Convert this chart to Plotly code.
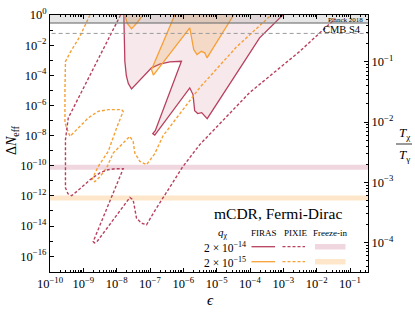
import plotly.graph_objects as go

# ---------------- data ----------------
# FIRAS, q = 2e-14 (closed region)
firas14_eps = [1.64e-8, 1.68e-8, 1.76e-8, 1.95e-8, 2.24e-8, 2.79e-8, 5.31e-8, 1.11e-7, 1.96e-7,
               3.92e-7, 8.77e-7, 1.44e-7, 1.21e-7, 1.39e-7, 1.56e-6, 1.95e-6, 2.19e-6, 2.70e-6,
               3.56e-6, 5.20e-6, 1.94e-4, 9.66e-4]
firas14_dn = [1.0, 2.34e-2, 8.13e-4, 9.55e-5, 2.82e-5, 1.26e-5, 5.62e-5, 3.09e-4, 5.50e-4,
              7.76e-4, 8.51e-4, 2.14e-8, 1.35e-8, 1.07e-8, 1.45e-5, 5.25e-6, 4.47e-7, 2.88e-7,
              3.31e-7, 1.32e-7, 3.05e-2, 1.0]

# FIRAS, q = 2e-15 (main region + small lobe at top)
firas15_eps = [5.53e-7, 1.11e-7, 1.26e-7, 1.56e-6, 2.05e-6, 2.57e-6, 3.48e-6, 4.38e-6, 5.13e-6, 3.23e-5]
firas15_dn = [1.0, 2.40e-4, 1.02e-4, 1.41e-1, 5.13e-3, 2.40e-3, 3.89e-3, 3.09e-3, 1.45e-3, 1.0]
firas15b_eps = [1.76e-8, 2.09e-8, 2.79e-8, 4.03e-8, 6.21e-8]
firas15b_dn = [1.0, 0.272, 0.121, 0.295, 1.0]

# PIXIE, q = 2e-14
pixie14_eps = [1.31e-8, 3.53e-10, 2.91e-10, 2.81e-10, 2.91e-10, 3.46e-10, 4.47e-10, 7.91e-10,
               1.58e-9, 3.14e-9, 5.46e-9, 8.83e-9, 1.57e-8, 1.98e-9, 2.15e-9, 2.50e-9, 2.48e-8,
               3.12e-8, 3.94e-8, 5.57e-8, 7.85e-8, 1.39e-7, 2.42e-7, 4.50e-7, 9.59e-7, 3.10e-6,
               9.73e-5, 3.05e-3, 3.66e-2]
pixie14_dn = [1.0, 1.48e-7, 5.37e-9, 2.51e-11, 3.47e-12, 1.38e-12, 1.02e-12, 2.95e-12,
              1.17e-11, 3.39e-11, 5.37e-11, 6.31e-11, 6.31e-11, 9.33e-16, 7.59e-16, 8.51e-16, 7.76e-13,
              5.50e-13, 3.31e-14, 1.55e-14, 1.20e-14, 1.02e-13, 7.41e-13, 6.92e-12, 8.51e-11, 2.51e-9,
              7.08e-6, 3.72e-3, 0.589]

# PIXIE, q = 2e-15
pixie15_eps = [1.58e-9, 7.91e-10, 3.97e-10, 2.91e-10, 2.81e-10, 2.81e-10, 3.16e-10, 3.97e-10,
               7.03e-10, 1.40e-9, 2.79e-9, 5.57e-9, 1.40e-8, 1.57e-8, 9.93e-9, 5.57e-9, 2.79e-9,
               2.00e-9, 1.81e-9, 2.22e-9, 3.14e-9, 4.99e-9, 7.85e-9, 2.48e-8, 3.12e-8, 3.51e-8,
               4.95e-8, 7.85e-8, 1.39e-7, 2.47e-7, 1.10e-6, 3.10e-6, 3.89e-5, 4.35e-4]
pixie15_dn = [1.0, 3.89e-2, 3.09e-3, 8.13e-4, 1.12e-5, 7.24e-8, 3.16e-8, 8.91e-9,
              3.16e-8, 1.48e-7, 4.07e-7, 5.25e-7, 5.25e-7, 4.07e-7, 3.16e-8, 8.91e-10, 8.91e-11,
              2.19e-11, 1.17e-11, 8.71e-12, 1.86e-11, 7.08e-11, 6.92e-10, 8.91e-9, 4.07e-9, 6.92e-10,
              1.95e-10, 1.17e-10, 6.31e-10, 9.77e-9, 7.08e-7, 1.51e-5, 7.41e-3, 1.0]

# Freeze-in values and band half-width (decades)
freezein_14 = 7.9e-11
freezein_15 = 7.2e-13
band_factor = 10 ** 0.17

planck_2018 = 0.3
cmb_s4 = 0.06

x_ticks = [1e-10, 1e-9, 1e-8, 1e-7, 1e-6, 1e-5, 1e-4, 1e-3, 1e-2, 1e-1]
x_ticktext = ["10<sup>−10</sup>", "10<sup>−9</sup>", "10<sup>−8</sup>", "10<sup>−7</sup>",
              "10<sup>−6</sup>", "10<sup>−5</sup>", "10<sup>−4</sup>", "10<sup>−3</sup>",
              "10<sup>−2</sup>", "10<sup>−1</sup>"]
y_ticks = [1e0, 1e-2, 1e-4, 1e-6, 1e-8, 1e-10, 1e-12, 1e-14, 1e-16]
y_ticktext = ["10<sup>0</sup>", "10<sup>−2</sup>", "10<sup>−4</sup>", "10<sup>−6</sup>",
              "10<sup>−8</sup>", "10<sup>−10</sup>", "10<sup>−12</sup>", "10<sup>−14</sup>",
              "10<sup>−16</sup>"]
y_minor = [1e-1, 1e-3, 1e-5, 1e-7, 1e-9, 1e-11, 1e-13, 1e-15, 1e-17]
t_ticks = [1e-4, 1e-3, 1e-2, 1e-1]
t_ticktext = ["10<sup>−4</sup>", "10<sup>−3</sup>", "10<sup>−2</sup>", "10<sup>−1</sup>"]

RED = "#B8405E"
ORANGE = "#F7A035"
FONT = "Liberation Serif"

x_minor = [k * 10.0 ** n for n in range(-10, 0) for k in range(2, 10)]
t_minor = [k * 10.0 ** n for n in range(-5, 0) for k in range(2, 10)]

fig = go.Figure()

# freeze-in bands
for val, col in [(freezein_14, "rgba(205,120,145,0.30)"), (freezein_15, "rgba(253,200,140,0.45)")]:
    fig.add_trace(go.Scatter(x=[1e-11, 10, 10, 1e-11],
                             y=[val / band_factor, val / band_factor, val * band_factor, val * band_factor],
                             fill="toself", fillcolor=col, line=dict(width=0), mode="lines",
                             hoverinfo="skip", showlegend=False))

# FIRAS regions
fig.add_trace(go.Scatter(x=firas14_eps, y=firas14_dn, fill="toself", fillcolor="rgba(184,64,94,0.12)",
                         mode="lines", line=dict(color=RED, width=1.3), showlegend=False))
fig.add_trace(go.Scatter(x=firas15_eps, y=firas15_dn, fill="toself", fillcolor="rgba(247,160,53,0.20)",
                         mode="lines", line=dict(color=ORANGE, width=1.3), showlegend=False))
fig.add_trace(go.Scatter(x=firas15b_eps, y=firas15b_dn, fill="toself", fillcolor="rgba(247,160,53,0.20)",
                         mode="lines", line=dict(color=ORANGE, width=1.3), showlegend=False))

# PIXIE curves
fig.add_trace(go.Scatter(x=pixie15_eps, y=pixie15_dn, mode="lines",
                         line=dict(color=ORANGE, width=1.4, dash="3px,2px"), showlegend=False))
fig.add_trace(go.Scatter(x=pixie14_eps, y=pixie14_dn, mode="lines",
                         line=dict(color=RED, width=1.4, dash="3px,2px"), showlegend=False))

# Planck band and CMB-S4 line
fig.add_trace(go.Scatter(x=[1e-11, 10, 10, 1e-11], y=[planck_2018, planck_2018, 10, 10],
                         fill="toself", fillcolor="rgba(140,140,140,0.22)", mode="lines",
                         line=dict(width=0), hoverinfo="skip", showlegend=False))
fig.add_trace(go.Scatter(x=[1e-11, 10], y=[planck_2018, planck_2018], mode="lines",
                         line=dict(color="rgba(120,120,120,0.6)", width=2), showlegend=False))
fig.add_trace(go.Scatter(x=[1e-11, 10], y=[cmb_s4, cmb_s4], mode="lines",
                         line=dict(color="#9a9a9a", width=1, dash="4px,3px"), showlegend=False))

# invisible trace to anchor the right axis
fig.add_trace(go.Scatter(x=[1e-5], y=[1e-2], yaxis="y2", mode="markers",
                         marker=dict(opacity=0), hoverinfo="skip", showlegend=False))

tickfont = dict(family=FONT, size=12.5, color="black")
fig.update_layout(
    width=415, height=313,
    margin=dict(l=50, r=47, t=15, b=41, autoexpand=False),
    paper_bgcolor="white", plot_bgcolor="white",
    font=dict(family=FONT, color="black"),
    xaxis=dict(type="log", range=[-10, -0.46], showgrid=False, zeroline=False, automargin=False,
               showline=True, linecolor="black", linewidth=1, mirror="ticks",
               ticks="inside", ticklen=4, tickcolor="black",
               tickvals=x_ticks, ticktext=x_ticktext, tickfont=tickfont,
               minor=dict(tickvals=x_minor, ticks="inside", ticklen=2, tickcolor="black")),
    yaxis=dict(type="log", range=[-17.05, 0], showgrid=False, zeroline=False, automargin=False,
               showline=True, linecolor="black", linewidth=1, mirror=False,
               ticks="inside", ticklen=4, tickcolor="black",
               tickvals=y_ticks, ticktext=y_ticktext, tickfont=tickfont,
               minor=dict(tickvals=y_minor, ticks="inside", ticklen=2.5, tickcolor="black")),
    yaxis2=dict(type="log", overlaying="y", side="right", range=[-4.4875, -0.225], automargin=False,
                showgrid=False, zeroline=False, showline=True, linecolor="black", linewidth=1,
                ticks="inside", ticklen=4, tickcolor="black",
                tickvals=t_ticks, ticktext=t_ticktext, tickfont=tickfont,
                minor=dict(tickvals=t_minor, ticks="inside", ticklen=2, tickcolor="black")),
)

def px(x):
    return (x - 50) / 318.0

def py(y):
    return (272 - y) / 257.0

ann = []
def text(x, y, s, size, xanchor="center", angle=0):
    ann.append(dict(x=px(x), y=py(y), xref="paper", yref="paper", text=s, showarrow=False,
                    xanchor=xanchor, yanchor="middle", textangle=angle,
                    font=dict(family=FONT, size=size, color="black")))

text(12, 140, "Δ<i>N</i><sub>eff</sub>", 14, angle=-90)
text(210, 300, "<i>ϵ</i>", 15)
text(404, 133, "<i>T</i><sub>χ</sub>", 13)
text(404, 155, "<i>T</i><sub>γ</sub>", 13)
text(365, 20, "Planck 2018", 7, xanchor="right")
text(363, 29.5, "CMB S4", 10.5, xanchor="right")
text(278, 213, "mCDR, Fermi-Dirac", 15.5)
text(223, 233, "<i>q</i><sub>χ</sub>", 11)
text(263.5, 232.5, "FIRAS", 9)
text(295, 232.5, "PIXIE", 9)
text(330, 232.5, "Freeze-in", 9)
text(225, 246.5, "2 × 10<sup>−14</sup>", 11.5)
text(225, 261.5, "2 × 10<sup>−15</sup>", 11.5)
fig.update_layout(annotations=ann)

shapes = [
    dict(type="line", xref="paper", yref="paper", x0=px(396), x1=px(412), y0=py(144), y1=py(144),
         line=dict(color="black", width=0.8)),
    dict(type="line", xref="paper", yref="paper", x0=px(251.5), x1=px(275), y0=py(246.7), y1=py(246.7),
         line=dict(color=RED, width=1.3)),
    dict(type="line", xref="paper", yref="paper", x0=px(282.5), x1=px(305), y0=py(246.7), y1=py(246.7),
         line=dict(color=RED, width=1.3, dash="3px,2px")),
    dict(type="rect", xref="paper", yref="paper", x0=px(315), x1=px(345.5), y0=py(249.5), y1=py(244),
         line=dict(width=0), fillcolor="rgba(205,120,145,0.30)"),
    dict(type="line", xref="paper", yref="paper", x0=px(251.5), x1=px(275), y0=py(261.7), y1=py(261.7),
         line=dict(color=ORANGE, width=1.3)),
    dict(type="line", xref="paper", yref="paper", x0=px(282.5), x1=px(305), y0=py(261.7), y1=py(261.7),
         line=dict(color=ORANGE, width=1.3, dash="3px,2px")),
    dict(type="rect", xref="paper", yref="paper", x0=px(315), x1=px(345.5), y0=py(264.5), y1=py(259),
         line=dict(width=0), fillcolor="rgba(253,200,140,0.45)"),
]
fig.update_layout(shapes=shapes)

fig.write_html("out.html", config={"displayModeBar": False},
               post_script="document.body.style.margin='0px';")
